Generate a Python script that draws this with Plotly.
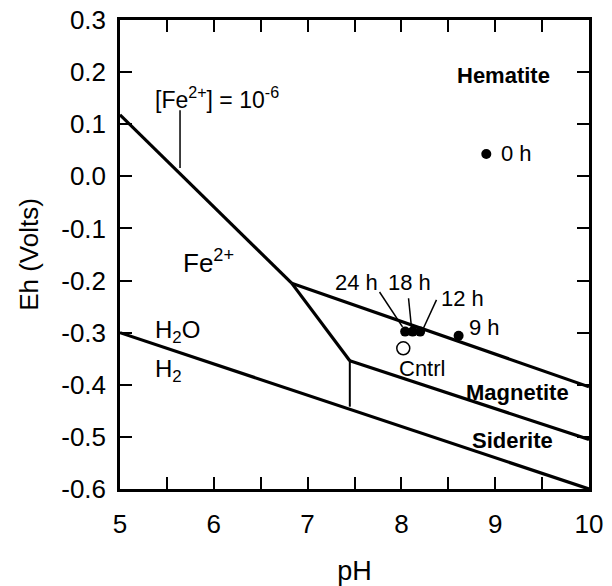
import plotly.graph_objects as go

# Boundaries (pH, Eh)
fe_hem_ph = [5.0, 6.83]
fe_hem_eh = [0.118, -0.205]
fe_mag_ph = [6.83, 7.45]
fe_mag_eh = [-0.205, -0.354]
hem_mag_ph = [6.83, 10.0]
hem_mag_eh = [-0.205, -0.404]
mag_sid_ph = [7.45, 10.0]
mag_sid_eh = [-0.354, -0.505]
fe_sid_ph = [7.45, 7.45]
fe_sid_eh = [-0.354, -0.442]
water_ph = [5.0, 10.0]
water_eh = [-0.30, -0.60]

# Samples
sample_labels = ["0 h", "9 h", "12 h", "18 h", "24 h"]
sample_ph = [8.905, 8.61, 8.20, 8.12, 8.04]
sample_eh = [0.043, -0.306, -0.298, -0.298, -0.298]
cntrl_ph = [8.02]
cntrl_eh = [-0.330]

# Leader lines
lead_fe_ph = [5.64, 5.64]
lead_fe_eh = [0.127, 0.016]
lead24_ph = [7.767, 8.012]
lead24_eh = [-0.222, -0.289]
lead18_ph = [8.076, 8.108]
lead18_eh = [-0.234, -0.291]
lead12_ph = [8.374, 8.236]
lead12_eh = [-0.237, -0.291]

x_ticks = [5, 5.5, 6, 6.5, 7, 7.5, 8, 8.5, 9, 9.5, 10]
x_ticktext = ["5", "", "6", "", "7", "", "8", "", "9", "", "10"]
y_ticks = [0.3, 0.2, 0.1, 0.0, -0.1, -0.2, -0.3, -0.4, -0.5, -0.6]
y_ticktext = ["0.3", "0.2", "0.1", "0.0", "-0.1", "-0.2", "-0.3", "-0.4", "-0.5", "-0.6"]

FONT = "Liberation Sans, Arial, sans-serif"
fig = go.Figure()

for xs, ys in [(fe_hem_ph, fe_hem_eh), (fe_mag_ph, fe_mag_eh), (hem_mag_ph, hem_mag_eh),
               (mag_sid_ph, mag_sid_eh), (water_ph, water_eh)]:
    fig.add_trace(go.Scatter(x=xs, y=ys, mode="lines", line=dict(color="black", width=3.2),
                             showlegend=False, hoverinfo="skip"))
fig.add_trace(go.Scatter(x=fe_sid_ph, y=fe_sid_eh, mode="lines", line=dict(color="black", width=2),
                         showlegend=False, hoverinfo="skip"))

for xs, ys in [(lead_fe_ph, lead_fe_eh), (lead24_ph, lead24_eh), (lead18_ph, lead18_eh), (lead12_ph, lead12_eh)]:
    fig.add_trace(go.Scatter(x=xs, y=ys, mode="lines", line=dict(color="black", width=1.5),
                             showlegend=False, hoverinfo="skip"))

fig.add_trace(go.Scatter(x=sample_ph, y=sample_eh, mode="markers",
                         marker=dict(color="black", size=10), showlegend=False))
fig.add_trace(go.Scatter(x=cntrl_ph, y=cntrl_eh, mode="markers",
                         marker=dict(color="white", size=13, line=dict(color="black", width=1.5)),
                         showlegend=False))

def ann(x, y, text, size=22, bold=False, xanchor="center"):
    if bold:
        text = "<b>" + text + "</b>"
    fig.add_annotation(x=x, y=y, text=text, showarrow=False, xanchor=xanchor, yanchor="middle",
                       font=dict(family=FONT, size=size, color="black"))

ann(9.09, 0.194, "Hematite", 22, True)
ann(9.24, -0.414, "Magnetite", 22, True)
ann(9.18, -0.506, "Siderite", 22, True)
ann(9.045, 0.043, "0 h", 22, xanchor="left")
ann(8.70, -0.291, "9 h", 22, xanchor="left")
ann(8.40, -0.235, "12 h", 22, xanchor="left")
ann(8.09, -0.203, "18 h", 22)
ann(7.52, -0.203, "24 h", 22)
ann(8.22, -0.368, "Cntrl", 22)
ann(5.35, 0.150, "[Fe<sup>2+</sup>] = 10<sup>-6</sup>", 23, xanchor="left")
ann(5.655, -0.164, "Fe<sup>2+</sup>", 26, xanchor="left")
ann(5.35, -0.297, "H<sub>2</sub>O", 24, xanchor="left")
ann(5.35, -0.372, "H<sub>2</sub>", 24, xanchor="left")

fig.update_layout(
    width=612, height=586,
    margin=dict(l=112, r=31, t=12, b=105),
    paper_bgcolor="white", plot_bgcolor="white",
    font=dict(family=FONT, size=26, color="black"),
    showlegend=False,
)
fig.update_xaxes(range=[5, 10], tickvals=x_ticks, ticktext=x_ticktext,
                 ticks="inside", ticklen=12, tickwidth=2, tickcolor="black",
                 showline=True, linecolor="black", linewidth=2.5, mirror="ticks",
                 showgrid=False, zeroline=False, ticklabelstandoff=10, automargin=False,
                 ticklabeloverflow="allow",
                 title=dict(text="pH", standoff=24, font=dict(size=27)))
fig.update_yaxes(range=[-0.6, 0.3], tickvals=y_ticks, ticktext=y_ticktext,
                 ticks="inside", ticklen=12, tickwidth=2, tickcolor="black",
                 showline=True, linecolor="black", linewidth=2.5, mirror="ticks",
                 showgrid=False, zeroline=False, ticklabelstandoff=6, automargin=False,
                 ticklabeloverflow="allow",
                 title=dict(text="Eh (Volts)", standoff=16, font=dict(size=26)))

fig.write_html("out.html")
